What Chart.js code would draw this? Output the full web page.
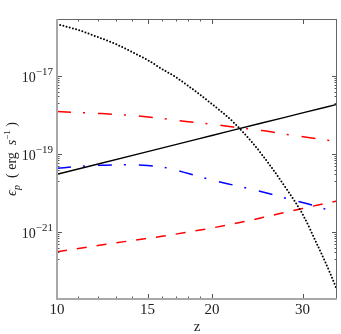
<!DOCTYPE html>
<html>
<head>
<meta charset="utf-8">
<script src="https://cdn.jsdelivr.net/npm/chart.js@4"></script>
<style>body{margin:0;background:#fff}</style>
</head>
<body>
<canvas id="myChart" width="341" height="334"></canvas>
<script>
// valores (z, emisividad en erg/s)
const zDotted = [10, 11, 12, 13, 14, 15, 16, 17, 18, 20, 22, 24, 26, 28, 30, 32, 34, 35];
const epsDotted = [2.15e-16, 1.51e-16, 1.0e-16, 6.61e-17, 4.12e-17, 2.57e-17, 1.51e-17, 9.42e-18, 5.55e-18,
                   1.91e-18, 6.61e-19, 1.91e-19, 4.90e-20, 1.20e-20, 2.88e-21, 4.90e-22, 8.32e-23, 3.24e-23];

const zSolid = [10, 15, 20, 25, 30, 35];
const epsSolid = [3.02e-20, 1.15e-19, 2.98e-19, 6.24e-19, 1.13e-18, 1.88e-18];

const zRedDashDot = [10, 12, 14, 16, 18, 20, 22, 25, 28, 31, 35];
const epsRedDashDot = [1.23e-18, 1.10e-18, 9.70e-19, 8.13e-19, 6.73e-19, 5.78e-19, 4.92e-19, 3.98e-19, 3.16e-19, 2.62e-19, 2.09e-19];

const zBlue = [10, 11, 12, 14, 15, 16, 17, 18, 20, 22, 24, 26, 28, 30, 32, 35];
const epsBlue = [4.30e-20, 4.78e-20, 5.13e-20, 5.28e-20, 5.07e-20, 4.64e-20, 3.89e-20, 3.16e-20, 2.15e-20,
                 1.60e-20, 1.23e-20, 9.42e-21, 7.23e-21, 5.70e-21, 4.51e-21, 3.07e-21];

const zRedDashed = [10, 12, 14, 16, 18, 20, 22, 24, 26, 28, 30, 32, 35];
const epsRedDashed = [3.13e-22, 4.48e-22, 6.05e-22, 7.76e-22, 1.0e-21, 1.27e-21, 1.62e-21, 2.06e-21, 2.62e-21,
                      3.26e-21, 4.01e-21, 4.86e-21, 6.24e-21];

// marcas de los ejes
const xMajor = [10, 15, 20, 30];
const xMinor = [11, 12, 13, 14, 16, 17, 18, 19];
const yExps = [-17, -19, -21];

const serif = '"Liberation Serif", "DejaVu Serif", serif';

function pts(zs, vs) { return zs.map((z, i) => ({x: z, y: vs[i]})); }

// dibuja marco, marcas y textos con las escalas del grafico
const marco = {
  id: 'marco',
  afterDraw(chart) {
    const c = chart.ctx, a = chart.chartArea;
    const xs = chart.scales.x, ys = chart.scales.y;
    c.save();
    function seg(x1, y1, x2, y2) { c.beginPath(); c.moveTo(x1, y1); c.lineTo(x2, y2); c.stroke(); }

    c.strokeStyle = '#555';
    c.lineWidth = 1;
    const tx = (v, len) => {
      const p = Math.round(xs.getPixelForValue(v)) + 0.5;
      seg(p, a.bottom, p, a.bottom - len);
      seg(p, a.top, p, a.top + len);
    };
    const ty = (v, len) => {
      const p = Math.round(ys.getPixelForValue(v)) + 0.5;
      seg(a.left, p, a.left + len, p);
      seg(a.right, p, a.right - len, p);
    };
    xMajor.forEach(v => tx(v, 5));
    xMinor.forEach(v => tx(v, 2.5));
    yExps.forEach(e => {
      ty(Math.pow(10, e), 5);
      for (let m = 2; m <= 9; m++) ty(m * Math.pow(10, e - 1), 2.5);
    });

    // marco
    c.strokeStyle = '#666';
    c.lineWidth = 1;
    seg(a.left, a.top + 0.5, a.right, a.top + 0.5);
    seg(a.right - 0.5, a.top, a.right - 0.5, a.bottom);
    c.strokeStyle = '#a8a8a8';
    c.lineWidth = 2;
    seg(a.left, a.bottom, a.right, a.bottom);
    seg(a.left, a.top, a.left, a.bottom + 1);

    // etiquetas eje x
    c.fillStyle = '#222';
    c.font = '15px ' + serif;
    c.textAlign = 'center';
    c.textBaseline = 'alphabetic';
    xMajor.forEach(v => c.fillText(String(v), xs.getPixelForValue(v), 314));
    c.fillText('z', (a.left + a.right) / 2, 331);

    // etiquetas eje y: 10 con exponente
    c.textAlign = 'left';
    yExps.forEach(e => {
      const p = ys.getPixelForValue(Math.pow(10, e));
      const sup = '\u2212' + Math.abs(e);
      c.font = '14px ' + serif;
      const w10 = c.measureText('10').width;
      c.font = '11px ' + serif;
      const ws = c.measureText(sup).width;
      const x0 = a.left - 4 - w10 - ws;
      c.font = '14px ' + serif;
      c.fillText('10', x0, p + 5.5);
      c.font = '11px ' + serif;
      c.fillText(sup, x0 + w10, p - 1.5);
    });

    // titulo eje y (rotado)
    const partes = [
      {t: '\u03f5', f: 'italic 15px ', dy: 0},
      {t: 'p', f: 'italic 10px ', dy: 3.5},
      {t: '  ( erg  ', f: '14px ', dy: 0},
      {t: 's', f: 'italic 14px ', dy: 0},
      {t: '\u22121', f: '9px ', dy: -6},
      {t: ' )', f: '14px ', dy: 0}
    ];
    let total = 0;
    partes.forEach(q => { c.font = q.f + serif; q.w = c.measureText(q.t).width; total += q.w; });
    c.translate(16, (a.top + a.bottom) / 2);
    c.rotate(-Math.PI / 2);
    let px = -total / 2;
    partes.forEach(q => {
      c.font = q.f + serif;
      c.fillText(q.t, px, q.dy);
      px += q.w;
    });
    c.restore();
  }
};

const ctx = document.getElementById('myChart');
const data = {
  datasets: [
    {data: pts(zDotted, epsDotted), borderColor: '#000', borderWidth: 2,
     borderDash: [0, 3.3], borderCapStyle: 'round'},
    {data: pts(zSolid, epsSolid), borderColor: '#000', borderWidth: 1.4},
    {data: pts(zRedDashDot, epsRedDashDot), borderColor: '#ff0000', borderWidth: 1.5,
     borderDash: [14, 12, 2, 13]},
    {data: pts(zBlue, epsBlue), borderColor: '#0000ff', borderWidth: 1.5,
     borderDash: [14, 12, 2, 13]},
    {data: pts(zRedDashed, epsRedDashed), borderColor: '#ff0000', borderWidth: 1.5,
     borderDash: [10, 10]}
  ]
};
const config = {
  type: 'line',
  data: data,
  options: {
    responsive: false,
    animation: false,
    layout: {padding: {left: 57, right: 4, top: 19, bottom: 35}},
    plugins: {legend: {display: false}, tooltip: {enabled: false}},
    elements: {point: {radius: 0}, line: {cubicInterpolationMode: 'monotone', fill: false}},
    scales: {
      x: {type: 'logarithmic', min: 10, max: 35, display: false},
      y: {type: 'logarithmic', min: Math.pow(10, -22.718), max: Math.pow(10, -15.538), display: false}
    }
  },
  plugins: [marco]
};
new Chart(ctx, config);
</script>
</body>
</html>
